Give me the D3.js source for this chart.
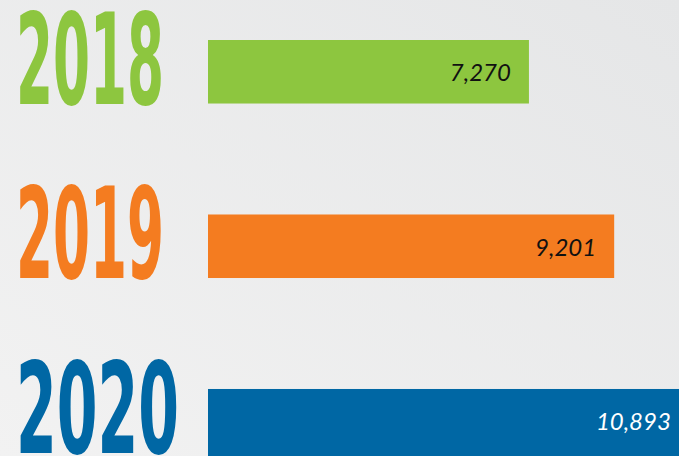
<!DOCTYPE html>
<html>
<head>
<meta charset="utf-8">
<script src="https://cdn.jsdelivr.net/npm/d3@7"></script>
<style>
  html, body { margin: 0; padding: 0; overflow: hidden; }
  svg { display: block; }
</style>
</head>
<body>
<script>
const years = ["2018", "2019", "2020"];
const values = [7270, 9201, 10893];
const colors = ["#8dc63f", "#f47c20", "#0067a4"];
const labelColors = ["#111111", "#111111", "#ffffff"];

const W = 679, H = 456;
const svg = d3.select("body").append("svg").attr("width", W).attr("height", H);

const defs = svg.append("defs");
const grad = defs.append("linearGradient").attr("id", "bg")
  .attr("x1", "0%").attr("y1", "100%").attr("x2", "100%").attr("y2", "0%");
grad.append("stop").attr("offset", "0%").attr("stop-color", "#f2f2f2");
grad.append("stop").attr("offset", "100%").attr("stop-color", "#e5e6e7");
svg.append("rect").attr("width", W).attr("height", H).attr("fill", "url(#bg)");

const x = d3.scaleLinear().domain([0, 11000]).range([208, 208 + 485.6]);
const y = d3.scaleBand().domain(years).range([40, 452.5]).paddingInner(0.636).paddingOuter(0);

const data = years.map((yr, i) => ({ year: yr, value: values[i], color: colors[i], lc: labelColors[i], last: i === years.length - 1 }));

svg.selectAll("rect.bar").data(data).join("rect")
  .attr("class", "bar")
  .attr("x", x(0))
  .attr("y", d => y(d.year))
  .attr("width", d => x(d.value) - x(0))
  .attr("height", d => d.last ? H - y(d.year) : y.bandwidth())
  .attr("fill", d => d.color);

const fmt = d3.format(",");
svg.selectAll("text.val").data(data).join("text")
  .attr("class", "val")
  .attr("x", d => x(d.value) - 18)
  .attr("y", d => y(d.year) + y.bandwidth() / 2)
  .attr("dy", "0.4em")
  .attr("text-anchor", "end")
  .attr("font-family", "Lato, 'Open Sans', sans-serif")
  .attr("font-style", "italic")
  .attr("font-size", 24)
  .attr("fill", d => d.lc)
  .text(d => fmt(d.value));

const yearWidths = { "2018": 148, "2019": 148, "2020": 163 };
svg.selectAll("text.yr").data(data).join("text")
  .attr("class", "yr")
  .attr("x", 16)
  .attr("y", d => y(d.year) + y.bandwidth())
  .attr("font-family", "'Liberation Sans Narrow', 'DejaVu Sans Condensed', sans-serif")
  .attr("font-weight", "bold")
  .attr("font-size", 127)
  .attr("textLength", d => yearWidths[d.year])
  .attr("lengthAdjust", "spacingAndGlyphs")
  .attr("fill", d => d.color)
  .text(d => d.year);
</script>
</body>
</html>
